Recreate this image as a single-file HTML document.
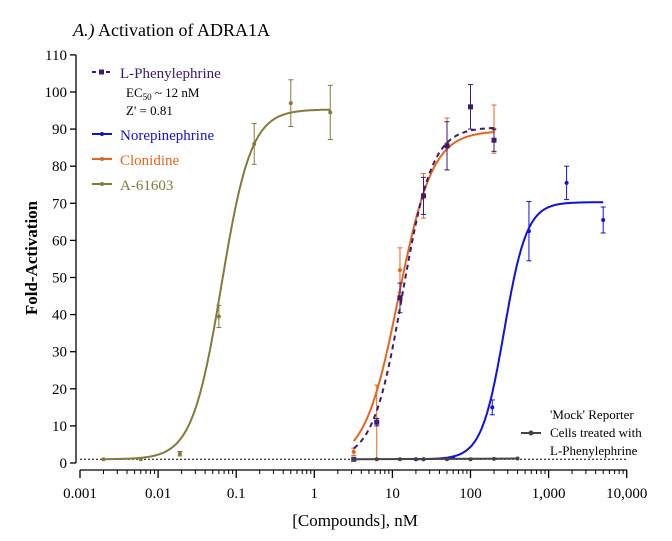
<!DOCTYPE html><html><head><style>body{margin:0;background:#fff}svg{display:block;font-family:"Liberation Serif",serif}</style></head><body>
<svg id="s" width="672" height="541" xmlns="http://www.w3.org/2000/svg">
<text x="73" y="36" font-size="18"><tspan font-style="italic">A.)</tspan> Activation of ADRA1A</text>
<text transform="translate(37,258) rotate(-90)" text-anchor="middle" font-size="17" font-weight="bold">Fold-Activation</text>
<text x="355" y="526" text-anchor="middle" font-size="17">[Compounds], nM</text>
<g id="g"></g>
<g font-size="15">
<line x1="92" y1="72" x2="112" y2="72" stroke="#3d1a6e" stroke-width="2" stroke-dasharray="4,3"/><rect x="99" y="69.5" width="5" height="5" fill="#3d1a6e"/>
<text x="120" y="78" fill="#3d1a6e">L-Phenylephrine</text>
<text x="126" y="97" font-size="13">EC<tspan font-size="9" dy="3">50</tspan><tspan dy="-3"> ~ 12 nM</tspan></text>
<text x="126" y="115" font-size="13">Z' = 0.81</text>
<line x1="92" y1="134" x2="112" y2="134" stroke="#1010e0" stroke-width="2"/><circle cx="102" cy="134" r="2" fill="#1010e0"/>
<text x="120" y="140" fill="#1010e0">Norepinephrine</text>
<line x1="92" y1="159" x2="112" y2="159" stroke="#e8641e" stroke-width="2"/><circle cx="102" cy="159" r="2" fill="#e8641e"/>
<text x="120" y="165" fill="#e8641e">Clonidine</text>
<line x1="92" y1="184" x2="112" y2="184" stroke="#857a3a" stroke-width="2"/><circle cx="102" cy="184" r="2" fill="#857a3a"/>
<text x="120" y="190" fill="#857a3a">A-61603</text>
</g>
<g font-size="13">
<line x1="521" y1="433" x2="541" y2="433" stroke="#444" stroke-width="2"/><circle cx="531" cy="433" r="2.5" fill="#444"/>
<text x="550" y="419">'Mock' Reporter</text>
<text x="550" y="437">Cells treated with</text>
<text x="550" y="455">L-Phenylephrine</text>
</g>
</svg>
<script>
const g=document.getElementById('g');let h='';
const X=v=>80+(Math.log10(v)+3)*78.1, Y=v=>463-v*3.71;
h+=`<line x1="76" y1="55" x2="76" y2="463" stroke="#000" stroke-width="1.3"/>`;
for(let v=0;v<=110;v+=10){h+=`<line x1="70" y1="${Y(v)}" x2="76" y2="${Y(v)}" stroke="#000" stroke-width="1.3"/><text x="67" y="${Y(v)+5}" text-anchor="end" font-size="15">${v}</text>`;}
h+=`<line x1="80" y1="470" x2="627" y2="470" stroke="#000" stroke-width="1.3"/>`;
const L=['0.001','0.01','0.1','1','10','100','1,000','10,000'];
for(let d=0;d<8;d++){let x=80+d*78.1;h+=`<line x1="${x}" y1="470" x2="${x}" y2="478" stroke="#000" stroke-width="1.3"/><text x="${x}" y="498" text-anchor="middle" font-size="15">${L[d]}</text>`;
 if(d<7)for(let k=2;k<10;k++){let xx=x+Math.log10(k)*78.1;h+=`<line x1="${xx}" y1="470" x2="${xx}" y2="474" stroke="#000"/>`;}}
h+=`<line x1="80" y1="${Y(1)}" x2="627" y2="${Y(1)}" stroke="#000" stroke-dasharray="2,2"/>`;
function curve(b,t,ec,n,a,z,c,dash){let p=[];for(let i=0;i<=200;i++){let lx=Math.log10(a)+(Math.log10(z)-Math.log10(a))*i/200,v=Math.pow(10,lx);let y=b+(t-b)/(1+Math.pow(ec/v,n));p.push(X(v).toFixed(1)+','+Y(y).toFixed(1));}
h+=`<polyline points="${p.join(' ')}" fill="none" stroke="${c}" stroke-width="2" ${dash?'stroke-dasharray="5,4"':''}/>`;}
function pts(arr,c,sh){arr.forEach(([x,y,e])=>{let px=X(x),py=Y(y);if(e){h+=`<line x1="${px}" y1="${Y(y+e)}" x2="${px}" y2="${Y(y-e)}" stroke="${c}"/><line x1="${px-2.5}" y1="${Y(y+e)}" x2="${px+2.5}" y2="${Y(y+e)}" stroke="${c}"/><line x1="${px-2.5}" y1="${Y(y-e)}" x2="${px+2.5}" y2="${Y(y-e)}" stroke="${c}"/>`;}
h+=sh?`<rect x="${px-2.5}" y="${py-2.5}" width="5" height="5" fill="${c}"/>`:`<circle cx="${px}" cy="${py}" r="2" fill="${c}"/>`;});}
curve(1,95.3,0.065,2.3,0.002,1.6,'#857a3a');
pts([[0.002,1],[0.006,1],[0.019,2.5,0.6],[0.06,39.5,3],[0.17,86,5.5],[0.5,97,6.3],[1.6,94.5,7.3]],'#857a3a');
curve(1,70.3,270,3,20,5000,'#1010e0');
pts([[20,1],[25,1],[60,1.5],[190,15,2],[560,62.5,8],[1700,75.5,4.5],[5000,65.5,3.5]],'#1010e0');
curve(0,89.5,12,2.0,3.2,200,'#e8641e');
pts([[3.2,3,1],[6.3,11,10],[12.5,52,6],[25,72,6],[50,86,7],[200,90,6.5]],'#e8641e');
curve(0.8,90.5,13.5,2.3,3.2,200,'#3d1a6e',1);
pts([[3.2,1],[6.3,11,1],[12.5,44.5,4],[25,72,5],[50,85.5,6.5],[100,96,6],[200,87,3]],'#3d1a6e',1);
h+=`<line x1="${X(3.2)}" y1="${Y(1)}" x2="${X(400)}" y2="${Y(1.2)}" stroke="#444" stroke-width="2"/>`;
pts([[3.2,1],[6.3,1],[12.5,1],[25,1],[50,1],[100,1],[200,1.1],[400,1.2]],'#444');
g.innerHTML=h;
</script></body></html>
